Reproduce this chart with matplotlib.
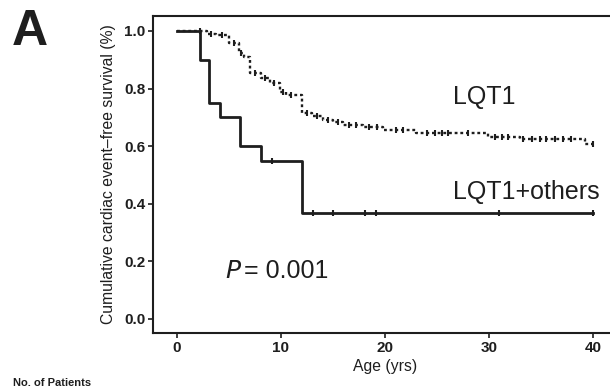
import matplotlib
matplotlib.use("Agg")
import matplotlib.pyplot as plt
import numpy as np

plt.rcParams['font.family'] = ['Liberation Sans', 'DejaVu Sans']

# LQT1 (dotted) Kaplan-Meier steps
lqt1_times = [0, 2.9, 3.8, 5.0, 6.0, 6.4, 7.0, 8.1, 8.9, 9.9, 10.5, 12.0, 13.0,
              14.0, 15.0, 16.0, 17.9, 19.8, 23.0, 29.9, 33.0, 39.2, 40.0]
lqt1_surv = [1.0, 0.99, 0.985, 0.957, 0.922, 0.908, 0.853, 0.835, 0.82, 0.789,
             0.778, 0.714, 0.703, 0.691, 0.683, 0.674, 0.665, 0.657, 0.645,
             0.633, 0.624, 0.607, 0.607]
lqt1_censor = [2.2, 3.3, 4.3, 5.5, 6.2, 7.5, 8.5, 9.3, 10.2, 11.0, 12.5, 13.5,
               14.5, 15.5, 16.5, 17.2, 18.5, 19.2, 21.1, 21.7, 24.0, 24.8,
               25.5, 26.1, 28.0, 30.6, 31.2, 31.8, 33.3, 34.1, 34.9, 35.5,
               36.3, 37.1, 37.9, 40.0]

# LQT1+others (solid)
oth_times = [0, 2.2, 3.1, 4.1, 6.1, 8.1, 12.05, 40.0]
oth_surv = [1.0, 0.9, 0.75, 0.70, 0.60, 0.55, 0.367, 0.367]
oth_censor = [9.1, 13.1, 15.0, 18.1, 19.1, 31.0, 40.0]

xticks = [0, 10, 20, 30, 40]
yticks = [0.0, 0.2, 0.4, 0.6, 0.8, 1.0]


def surv_at(times, surv, t):
    idx = np.searchsorted(times, t, side='right') - 1
    return surv[max(idx, 0)]


fig = plt.figure(figsize=(6.10, 3.89), dpi=100)
ax = fig.add_axes([153 / 610, 1 - 333 / 389, (617 - 153) / 610, (333 - 16) / 389])

col = '#1e1e1e'
ax.step(lqt1_times, lqt1_surv, where='post', color=col, lw=1.7,
        linestyle=(0, (1.2, 1.2)))
ax.plot(lqt1_censor, [surv_at(lqt1_times, lqt1_surv, t) for t in lqt1_censor],
        linestyle='none', marker='|', ms=5, mew=1.5, color=col)

ax.step(oth_times, oth_surv, where='post', color=col, lw=2.0)
ax.plot(oth_censor, [surv_at(oth_times, oth_surv, t) for t in oth_censor],
        linestyle='none', marker='|', ms=5, mew=1.5, color=col)

ax.set_xlim(-2.3, 42.3)
ax.set_ylim(-0.049, 1.052)
ax.set_xticks(xticks)
ax.set_yticks(yticks)
ax.set_xticklabels([str(v) for v in xticks], fontsize=11, fontweight='bold')
ax.set_yticklabels([f"{v:.1f}" for v in yticks], fontsize=11, fontweight='bold')
ax.tick_params(direction='out', length=3.5, width=1.2, pad=2, colors=col)
for s in ['left', 'bottom', 'top']:
    ax.spines[s].set_linewidth(1.5)
    ax.spines[s].set_color(col)
ax.spines['right'].set_visible(False)

ax.set_xlabel('Age (yrs)', fontsize=11.3, color=col, labelpad=3)
ax.set_ylabel('Cumulative cardiac event\u2013free survival (%)', fontsize=11.3,
              color=col, labelpad=6)

ax.text(26.5, 0.77, 'LQT1', fontsize=18, color=col, ha='left', va='center')
ax.text(26.5, 0.441, 'LQT1+others', fontsize=18, color=col, ha='left', va='center')
ax.text(4.6, 0.168, '$P$', fontsize=18, color=col, ha='left', va='center')
ax.text(6.4, 0.168, '= 0.001', fontsize=18, color=col, ha='left', va='center')

fig.text(12 / 610, 1 - 32 / 389, 'A', fontsize=36, fontweight='bold',
         color=col, ha='left', va='center')
fig.text(13 / 610, 1 / 389, 'No. of Patients', fontsize=8,
         fontweight='bold', color=col, ha='left', va='bottom')

fig.savefig('out.png', dpi=100)
